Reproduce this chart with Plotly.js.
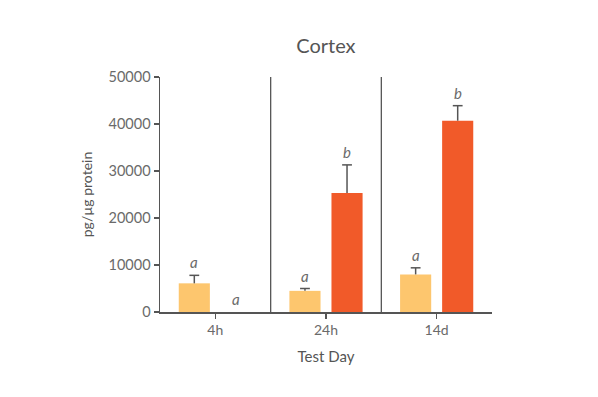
<!DOCTYPE html>
<html><head><meta charset="utf-8">
<script src="https://cdn.plot.ly/plotly-3.0.1.min.js"></script>
<style>html,body{margin:0;padding:0;background:#fff}#chart{width:598px;height:397px}</style>
</head><body><div id="chart"></div>
<script>
const categories = ["4h", "24h", "14d"];
const yellowValues = [6100, 4500, 8000];
const yellowErrors = [1700, 500, 1400];
const yellowLetters = ["a", "a", "a"];
const orangeValues = [0, 25300, 40700];
const orangeErrors = [0, 6000, 3200];
const orangeLetters = ["a", "b", "b"];

const bargap = 0.24;
const bargroupgap = 0.26;
const slot = (1 - bargap) / 2;
const barWidth = slot * (1 - bargroupgap);
const grey = "#6a6a6a";
const lineCol = "#555";
const fontFam = "Lato, 'Open Sans', sans-serif";
const idx = categories.map((c, i) => i);

function barTrace(vals, color, sign) {
  return {type: "bar", x: idx, y: vals, width: barWidth, offset: sign < 0 ? -slot / 2 - barWidth / 2 : slot / 2 - barWidth / 2,
    marker: {color: color}, hoverinfo: "none"};
}
function errTrace(vals, errs, sign) {
  const xs = [], ys = [];
  vals.forEach((v, i) => {
    if (errs[i] > 0) {
      xs.push(i + sign * slot / 2, i + sign * slot / 2, null);
      ys.push(v, v + errs[i], null);
    }
  });
  return {type: "scatter", mode: "lines", x: xs, y: ys, line: {color: lineCol, width: 1.5}, hoverinfo: "none", cliponaxis: false};
}
function capTrace(vals, errs, sign) {
  const xs = [], ys = [];
  vals.forEach((v, i) => { if (errs[i] > 0) { xs.push(i + sign * slot / 2); ys.push(v + errs[i]); } });
  return {type: "scatter", mode: "markers", x: xs, y: ys,
    marker: {symbol: "line-ew", size: 7, line: {color: lineCol, width: 1.5}}, hoverinfo: "none", cliponaxis: false};
}

const traces = [
  barTrace(yellowValues, "#FDC66E", -1),
  barTrace(orangeValues, "#F15A29", 1),
  errTrace(yellowValues, yellowErrors, -1),
  errTrace(orangeValues, orangeErrors, 1),
  capTrace(yellowValues, yellowErrors, -1),
  capTrace(orangeValues, orangeErrors, 1)
];

const annotations = [];
categories.forEach((c, i) => {
  annotations.push({x: i - slot / 2, y: yellowValues[i] + yellowErrors[i], xref: "x", yref: "y",
    text: yellowLetters[i], showarrow: false, yanchor: "middle", yshift: 13,
    font: {family: fontFam, size: 15, color: grey, style: "italic"}});
  annotations.push({x: i + slot / 2, y: orangeValues[i] + orangeErrors[i], xref: "x", yref: "y",
    text: orangeLetters[i], showarrow: false, yanchor: "middle", yshift: 13,
    font: {family: fontFam, size: 15, color: grey, style: "italic"}});
});

const shapes = [0.5, 1.5].map(v => ({type: "line", xref: "x", yref: "paper", x0: v, x1: v, y0: 0, y1: 1,
  line: {color: lineCol, width: 1.3}}));

const layout = {
  width: 598, height: 397,
  margin: {l: 160, r: 106, t: 77, b: 85},
  paper_bgcolor: "#fff", plot_bgcolor: "#fff",
  showlegend: false,
  font: {family: fontFam, color: grey},
  title: {text: "Cortex", x: 0.545, xanchor: "center", y: 0.885, yanchor: "middle",
    font: {family: fontFam, size: 20, color: "#555"}},
  xaxis: {range: [-0.5, 2.5], tickvals: idx, ticktext: categories,
    showgrid: false, zeroline: false, showline: true, linecolor: lineCol, linewidth: 1.5,
    ticks: "outside", ticklen: 5, tickcolor: lineCol, tickwidth: 1.3,
    tickfont: {family: fontFam, size: 14, color: grey},
    title: {text: "Test Day", standoff: 14, font: {family: fontFam, size: 15, color: "#555"}}},
  yaxis: {range: [0, 50000], tickvals: [0, 10000, 20000, 30000, 40000, 50000],
    ticktext: ["0", "10000", "20000", "30000", "40000", "50000"],
    showgrid: false, zeroline: false, showline: true, linecolor: lineCol, linewidth: 1.5,
    ticks: "outside", ticklen: 5, tickcolor: lineCol, tickwidth: 1.3,
    tickfont: {family: fontFam, size: 14.5, color: grey},
    title: {text: "pg/µg protein", standoff: 12, font: {family: fontFam, size: 14, color: "#555"}}},
  annotations: annotations,
  shapes: shapes
};

Plotly.newPlot("chart", traces, layout, {staticPlot: true, displayModeBar: false});
</script></body></html>
